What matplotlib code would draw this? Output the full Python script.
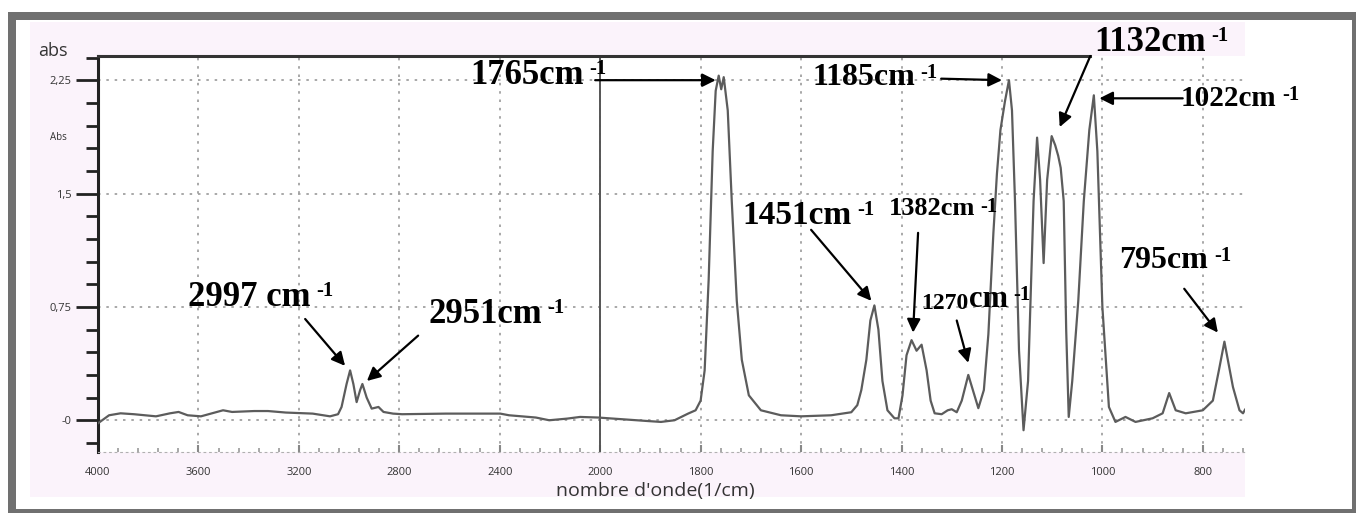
import numpy as np
import matplotlib
matplotlib.use("Agg")
import matplotlib.pyplot as plt
from matplotlib.patches import Rectangle
from matplotlib.ticker import FixedLocator, FixedFormatter

# FTIR spectrum (absorbance vs wavenumber)
wavenumber = [4000, 3956, 3910, 3857, 3769, 3713, 3679, 3643, 3590, 3502, 3466, 3378,
              3323, 3252, 3145, 3076, 3044, 3030, 3010, 2996, 2983, 2970, 2956, 2947,
              2930, 2910, 2883, 2863, 2825, 2789, 2614, 2398, 2363, 2256, 2203, 2131,
              2080, 2008, 1950, 1906, 1879, 1852, 1825, 1810, 1800, 1792, 1784, 1776,
              1770, 1764, 1759, 1754, 1746, 1738, 1728, 1718, 1704, 1680, 1640, 1600,
              1540, 1500, 1488, 1480, 1470, 1462, 1454, 1446, 1438, 1428, 1414, 1406,
              1398, 1390, 1380, 1370, 1360, 1350, 1342, 1334, 1320, 1308, 1300, 1290,
              1280, 1267, 1258, 1247, 1236, 1227, 1217, 1210, 1203, 1194, 1186, 1180,
              1174, 1166, 1157, 1148, 1137, 1130, 1124, 1117, 1110, 1101, 1094, 1088,
              1083, 1077, 1072, 1067, 1060, 1048, 1037, 1026, 1017, 1010, 1000, 987,
              974, 954, 934, 900, 880, 867, 854, 834, 800, 780, 768, 757,
              748, 740, 727, 720, 716]
absorbance = [-0.02, 0.033, 0.046, 0.04, 0.026, 0.046, 0.055, 0.033, 0.026, 0.066, 0.055, 0.061,
              0.061, 0.051, 0.044, 0.026, 0.04, 0.088, 0.24, 0.33, 0.24, 0.12, 0.2, 0.24,
              0.15, 0.077, 0.088, 0.055, 0.044, 0.04, 0.044, 0.044, 0.033, 0.018, 0.0, 0.011,
              0.022, 0.018, 0.005, -0.005, -0.011, 0.0, 0.044, 0.066, 0.13, 0.33, 0.93, 1.78,
              2.18, 2.28, 2.19, 2.27, 2.05, 1.45, 0.79, 0.40, 0.165, 0.066, 0.033, 0.026,
              0.033, 0.053, 0.1, 0.2, 0.40, 0.66, 0.76, 0.60, 0.26, 0.066, 0.013, 0.013,
              0.165, 0.43, 0.53, 0.46, 0.50, 0.33, 0.13, 0.046, 0.04, 0.066, 0.073, 0.053,
              0.13, 0.30, 0.2, 0.08, 0.2, 0.57, 1.24, 1.63, 1.92, 2.11, 2.25, 2.05,
              1.45, 0.46, -0.066, 0.26, 1.45, 1.87, 1.59, 1.04, 1.59, 1.88, 1.82, 1.75,
              1.67, 1.45, 0.59, 0.022, 0.26, 0.79, 1.45, 1.92, 2.15, 1.78, 0.75, 0.088,
              -0.011, 0.022, -0.011, 0.013, 0.046, 0.18, 0.066, 0.046, 0.066, 0.13, 0.33, 0.52,
              0.36, 0.22, 0.066, 0.046, 0.07]

x_major = [4000, 3600, 3200, 2800, 2400, 2000, 1800, 1600, 1400, 1200, 1000, 800]
y_major = [0, 0.75, 1.5, 2.25]
y_labels = ['-0', '0,75', '1,5', '2,25']

# peak labels: (text, text x, text y, font size) and arrows (tail -> tip)
peak_labels = [
    ('1765cm', 2518, 2.28, 25),
    ('2997 cm', 3641, 0.81, 25),
    ('2951cm', 2685, 0.70, 25),
    ('1451cm', 1716, 1.355, 24),
    ('1382cm', 1426, 1.40, 19),
    ('1185cm', 1578, 2.27, 23),
    ('1132cm', 1016, 2.50, 25),
    ('1022cm', 844, 2.13, 21),
    ('795cm', 966, 1.06, 23),
]
peak_arrows = [
    ((2020, 2.25), (1770, 2.25)),
    ((3175, 0.67), (3016, 0.36)),
    ((2725, 0.56), (2929, 0.26)),
    ((1580, 1.26), (1460, 0.79)),
    ((1367, 1.24), (1377, 0.58)),
    ((1290, 0.66), (1267, 0.38)),
    ((1321, 2.26), (1200, 2.25)),
    ((1024, 2.41), (1085, 1.94)),
    ((840, 2.13), (1006, 2.13)),
    ((837, 0.87), (770, 0.58)),
]

W, H = 1361, 515
fig = plt.figure(figsize=(W / 100, H / 100), dpi=100)
fig.patch.set_facecolor('white')


def px_rect(x0, y0, x1, y1, color, z=0):
    r = Rectangle((x0 / W, 1 - y1 / H), (x1 - x0) / W, (y1 - y0) / H,
                  transform=fig.transFigure, facecolor=color, edgecolor='none', zorder=z)
    fig.add_artist(r)


# window background and grey frame
px_rect(30, 22, 1245, 497, '#fbf3fb', z=-10)
frame = '#707070'
px_rect(8, 12, 1356, 20, frame, z=5)
px_rect(8, 12, 16, 513, frame, z=5)
px_rect(1352, 12, 1356, 513, frame, z=5)
px_rect(8, 509, 1356, 513, frame, z=5)

ax = fig.add_axes([98 / W, 1 - 452 / H, (1245 - 98) / W, (452 - 56) / H])
ax.set_facecolor('white')


# wavenumber axis is compressed by half above 2000 cm-1
def fwd(x):
    x = np.asarray(x, dtype=float)
    return np.where(x >= 2000, 2000 + (x - 2000) / 2, x)


def inv(u):
    u = np.asarray(u, dtype=float)
    return np.where(u >= 2000, 2000 + (u - 2000) * 2, u)


ax.set_xscale('function', functions=(fwd, inv))
ax.plot(wavenumber, absorbance, color='#5c5c5c', lw=1.6, zorder=3,
        solid_joinstyle='round')
ax.set_xlim(4000, 716)
ax.set_ylim(-0.21, 2.41)

x_minor = list(np.arange(4000, 2000, -80)) + list(np.arange(2000, 715, -40))
ax.xaxis.set_major_locator(FixedLocator(x_major))
ax.xaxis.set_minor_locator(FixedLocator(x_minor))
ax.xaxis.set_major_formatter(FixedFormatter([str(v) for v in x_major]))
ax.yaxis.set_major_locator(FixedLocator(y_major))
ax.yaxis.set_minor_locator(FixedLocator(np.arange(-0.15, 2.41, 0.15)))
ax.yaxis.set_major_formatter(FixedFormatter(y_labels))

ax.grid(True, which='major', color='#9a9a9a', linestyle=(0, (1.5, 3.5)), lw=1.2, zorder=1)
ax.axvline(2000, color='#555555', lw=1.4, zorder=2)

ax.spines['right'].set_visible(False)
ax.spines['left'].set_linewidth(2.2)
ax.spines['left'].set_color('#222222')
ax.spines['top'].set_linewidth(2.2)
ax.spines['top'].set_color('#333333')
ax.spines['top'].set_bounds(4000, 1024)
ax.spines['bottom'].set_color('#b0b0b0')
ax.spines['bottom'].set_linestyle((0, (1.5, 3.5)))

ax.tick_params(axis='y', which='major', length=16, width=2, color='#222222',
               labelsize=8, labelcolor='#333333', pad=3)
ax.tick_params(axis='y', which='minor', length=9, width=2, color='#222222')
ax.tick_params(axis='x', which='major', direction='in', length=5, width=1.5,
               color='#888888', labelsize=8, labelcolor='#333333', pad=11)
ax.tick_params(axis='x', which='minor', direction='in', length=3, width=1.2, color='#999999')
for lab in ax.get_xticklabels() + ax.get_yticklabels():
    lab.set_family('Open Sans')

ax.set_xlabel("nombre d'onde(1/cm)", fontsize=14, color='#333333', family='Open Sans')
ax.xaxis.set_label_coords(0.4856, -0.077)

fig.text(53 / W, 1 - 51 / H, 'abs', fontsize=13, color='#333333', family='Open Sans',
         ha='center', va='center')
fig.text(58 / W, 1 - 138 / H, 'Abs', fontsize=7, color='#333333', family='Open Sans',
         ha='center', va='center')

serif = 'Liberation Serif'


def sup_after(artist, size=15, dx=4, dy=0):
    ax.annotate('-1', xy=(1, 1), xycoords=artist, xytext=(dx, dy),
                textcoords='offset points', fontsize=size, fontweight='bold',
                family=serif, va='top', ha='left', annotation_clip=False)


for text, tx, ty, size in peak_labels:
    t = ax.text(tx, ty, text, fontsize=size, fontweight='bold', family=serif,
                ha='left', va='center', zorder=6)
    sup_after(t)

# 1270 label: small digits followed by larger unit
t_num = ax.text(1360, 0.77, '1270', fontsize=17, fontweight='bold', family=serif,
                ha='left', va='center', zorder=6)
t_cm = ax.annotate('cm', xy=(1, 0), xycoords=t_num, xytext=(0, 0),
                   textcoords='offset points', fontsize=22, fontweight='bold',
                   family=serif, ha='left', va='bottom', annotation_clip=False)
sup_after(t_cm)

for tail, tip in peak_arrows:
    ax.annotate('', xy=tip, xytext=tail,
                arrowprops=dict(arrowstyle='-|>', mutation_scale=20, lw=1.6,
                                color='black', shrinkA=0, shrinkB=0), zorder=7)

fig.savefig('out.png', dpi=100)
